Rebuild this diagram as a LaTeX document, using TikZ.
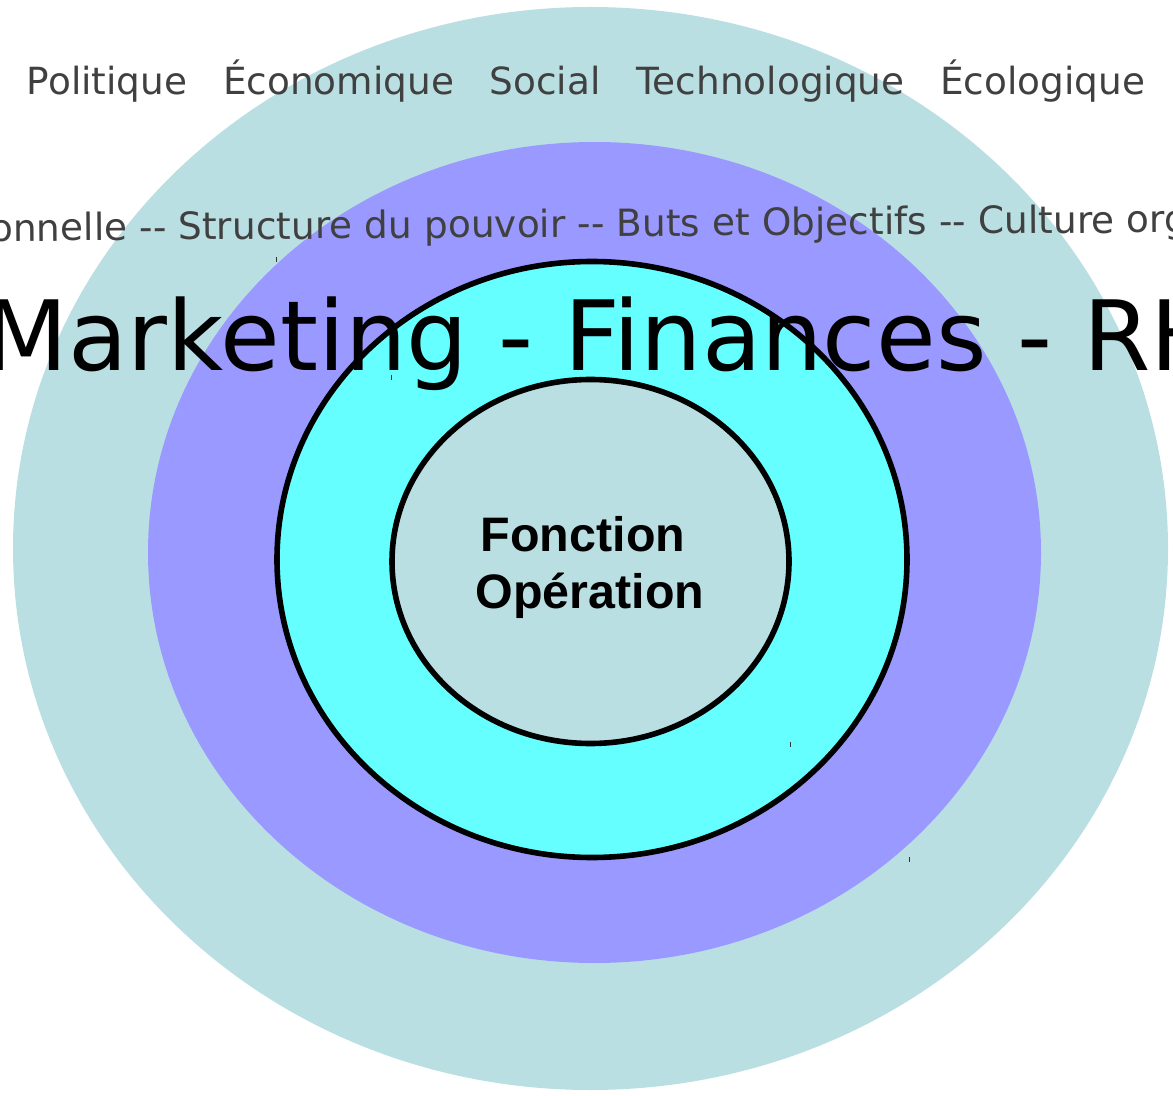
\documentclass[tikz,border=0pt]{standalone}
\usepackage{fontspec}
\newfontfamily\dvfont{DejaVu Sans}
\newfontfamily\lsfont{Liberation Sans}
\definecolor{ringpale}{HTML}{B9DFE3}
\definecolor{ringviolet}{HTML}{9999FF}
\definecolor{ringcyan}{HTML}{66FFFF}
\definecolor{labelgray}{HTML}{404040}
\definecolor{tickgray}{HTML}{333333}
% two plain hyphens, kept apart so they are not joined into a dash
\newcommand\dbldash{-\kern0pt-}

\begin{document}
\begin{tikzpicture}[x=0.5pt,y=-0.5pt,
  ring/.style={draw=black,line width=2.8pt},
  envtext/.style={text=labelgray,inner sep=0pt,font=\dvfont\fontsize{18.7}{22}\selectfont},
  orgtext/.style={text=labelgray,inner sep=0pt,font=\dvfont\fontsize{18.75}{22}\selectfont},
  functext/.style={text=black,inner sep=0pt,font=\dvfont\fontsize{48.5}{56}\selectfont},
  coretext/.style={text=black,inner sep=0pt,font=\lsfont\bfseries\fontsize{24.2}{28}\selectfont},
  tickmark/.style={draw=tickgray,line width=0.5pt}]
\useasboundingbox (0,0) rectangle (1173,1096);

% rings, from the environment inwards
\fill[ringpale]   (590.5,548.5) ellipse [x radius=577.5,y radius=541.5];
\fill[ringviolet] (594.5,552.5) ellipse [x radius=446.5,y radius=410.5];
\filldraw[ringcyan,ring] (592,559.5) ellipse [x radius=315,y radius=298];
\filldraw[ringpale,ring] (590.5,561.5) ellipse [x radius=198.5,y radius=182];

% small corner marks
\draw[tickmark] (276,257) -- (276,262);
\draw[tickmark] (391.5,375) -- (391.5,380);
\draw[tickmark] (790,742) -- (790,747);
\draw[tickmark] (909,857) -- (909,862);

% general environment
\node[envtext,anchor=base] (env) at (586,95)
  {Politique\ \ \ Économique\ \ \ Social\ \ \ Technologique\ \ \ Écologique};

% organisational context
\node[orgtext,anchor=base west,rotate=0.435] (org) at (-383,244.2)
  {Structure organisationnelle \dbldash{} Structure du pouvoir \dbldash{} Buts et Objectifs \dbldash{} Culture organisationnelle};

% functions
\node[functext,anchor=base] (func) at (604,371) {Marketing - Finances - RH};

% core
\node[coretext,anchor=base] (core1) at (583,552) {Fonction};
\node[coretext,anchor=base] (core2) at (590,608) {Opération};
\end{tikzpicture}
\end{document}
